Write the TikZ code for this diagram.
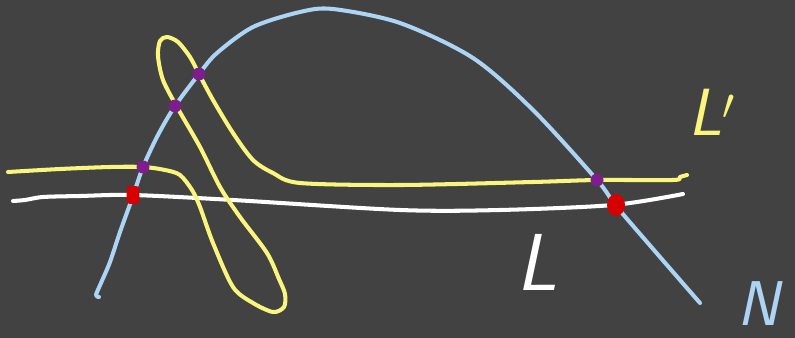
\documentclass[tikz,border=0pt]{standalone}
\usepackage{tikz}
\usetikzlibrary{positioning, shapes.geometric}
\definecolor{board}{RGB}{66,66,66}
\definecolor{chalkblue}{RGB}{172,212,245}
\definecolor{chalkyellow}{RGB}{250,245,125}
\definecolor{chalkpurple}{RGB}{125,30,140}
\definecolor{chalkred}{RGB}{214,0,0}
\tikzset{
  chalk/.style={line width=2.3pt, line cap=round, line join=round},
  meetdot/.style={
    circle, fill=chalkpurple, inner sep=0pt, minimum size=0.26cm
  },
  hitdot/.style={
    ellipse, fill=chalkred, inner sep=0pt,
    minimum width=0.36cm, minimum height=0.44cm
  },
  hitbox/.style={
    rectangle, rounded corners=2pt, fill=chalkred, inner sep=0pt,
    minimum width=0.26cm, minimum height=0.36cm
  },
  lbl/.style={font=\sffamily\itshape, inner sep=0pt},
}

\begin{document}
\begin{tikzpicture}[x=0.02cm, y=-0.02cm]
        \fill[board] (0,0) rectangle (795,338);
        \useasboundingbox (0,0) rectangle (795,338);
        \draw[chalk, white] plot[smooth, tension=0.5] coordinates
          {(13,201) (25,200) (43,197) (80,196) (133,195) (233,200)
           (400,210) (500,210) (613,205) (683,194)};
        \draw[chalk, chalkyellow] plot[smooth, tension=0.5] coordinates
          {(8,172) (60,169) (110,167) (143,167) (165,170) (180,175)
           (192,190) (200,207) (213,243) (233,287) (253,303) (273,312)
           (284,307) (285,294) (279,279) (267,253) (240,217) (220,187)
           (200,147) (177,107) (163,80) (158,56) (160,41) (167,37)
           (178,42) (190,57) (199,74) (213,100) (233,133) (253,160)
           (273,173) (300,183) (400,185) (533,182) (597,180) (673,180)
           (680,177) (687,175)};
        \draw[chalk, chalkblue] plot[smooth, tension=0.5] coordinates
          {(99,297) (96,295) (101,283) (110,262) (120,232) (133,196)
           (143,167) (158,135) (175,106) (199,74) (217,53) (253,27)
           (300,12) (333,9) (400,23) (473,58) (533,110) (597,180)
           (617,207) (660,257) (700,303)};
        \node[meetdot] (m1) at (143,167) {};
        \node[meetdot] (m2) at (175,106) {};
        \node[meetdot] (m3) at (199,74) {};
        \node[meetdot] (m4) at (597,180) {};
        \node[hitbox] (h1) at (133,195) {};
        \node[hitdot] (h2) at (616,205) {};
        \node[lbl, text=white, font=\fontsize{46}{46}\selectfont\sffamily\itshape]
          (labL) at (537,262) {L};
        \node[lbl, text=chalkyellow, font=\fontsize{38}{38}\selectfont\sffamily\itshape]
          (labLp) at (712,112) {L$'$};
        \node[lbl, text=chalkblue, font=\fontsize{36}{36}\selectfont\sffamily\itshape,
          anchor=south east] (labN) at (780,326) {N};
      \end{tikzpicture}
\end{document}
